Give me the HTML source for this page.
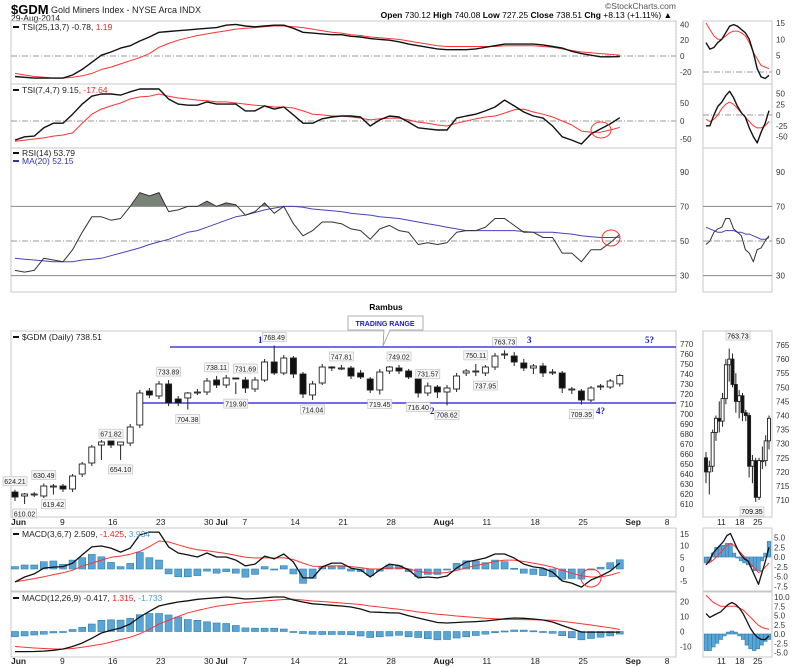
<!DOCTYPE html>
<html><head><meta charset="utf-8">
<style>
html,body{margin:0;padding:0;background:#fff;}
svg{display:block;font-family:"Liberation Sans",sans-serif;}
</style></head>
<body>
<svg id="c" width="800" height="667" viewBox="0 0 800 667" xmlns="http://www.w3.org/2000/svg">
<text x="11" y="14" font-size="13" font-weight="bold">$GDM</text>
<text x="51" y="13" font-size="9" fill="#222">Gold Miners Index - NYSE Arca  INDX</text>
<text x="11" y="21" font-size="8.5" fill="#222">29-Aug-2014</text>
<text x="676" y="9" font-size="8.5" fill="#555" text-anchor="end">©StockCharts.com</text>
<text x="672" y="18" font-size="8.5" text-anchor="end"><tspan font-weight="bold">Open</tspan> 730.12  <tspan font-weight="bold">High</tspan> 740.08  <tspan font-weight="bold">Low</tspan> 727.25  <tspan font-weight="bold">Close</tspan> 738.51  <tspan font-weight="bold">Chg</tspan> +8.13 (+1.11%) ▲</text>
<text x="386" y="310" font-size="8.5" font-weight="bold" text-anchor="middle">Rambus</text>
</svg>
<script>
// ---- data: main daily series (Jun 2 - Aug 29, 2014) ----
const dates = ["Jun 2","Jun 3","Jun 4","Jun 5","Jun 6","Jun 9","Jun 10","Jun 11","Jun 12","Jun 13","Jun 16","Jun 17","Jun 18","Jun 19","Jun 20","Jun 23","Jun 24","Jun 25","Jun 26","Jun 27","Jun 30","Jul 1","Jul 2","Jul 3","Jul 7","Jul 8","Jul 9","Jul 10","Jul 11","Jul 14","Jul 15","Jul 16","Jul 17","Jul 18","Jul 21","Jul 22","Jul 23","Jul 24","Jul 25","Jul 28","Jul 29","Jul 30","Jul 31","Aug 1","Aug 4","Aug 5","Aug 6","Aug 7","Aug 8","Aug 11","Aug 12","Aug 13","Aug 14","Aug 15","Aug 18","Aug 19","Aug 20","Aug 21","Aug 22","Aug 25","Aug 26","Aug 27","Aug 28","Aug 29"];
const opens  = [622,618,620,618,628,628,625,640,651,669,673,669,671,689,723,718,730,715,716,722,722,734,729,736,734,725,734,752,741,756,740,719,731,747,746,746,741,735,724,743,746,743,735,721,727,722,725,741,743,741,747,760,758,751,746,748,742,741,725,723,714,727,727,730.12];
const highs  = [624.21,621,622,630.49,630,630,640,652,669,674,671.82,672,690,724,726,733,733.89,718,722,725,736,738.11,739,731.69,737,737,755,768.49,759,758,742,733,750,747.81,749,748,744,737,745,748,749.02,745,737,731.57,729,729,741,745,750.11,749,761,763.73,762,755,750,751,745,743,727,725,728,730,735,740.08];
const lows   = [613,610.02,617,616,619.42,622,622,637,648,654,666,654.10,668,686,716,715,708,708,704.38,719,719,726,726,719.90,721,722,732,739,739,736,716,714.04,729,743,744,735,735,721,719.45,740,740,735,716.40,718,716,708.62,722,738,738,737.95,744,755,748,743,740,737,739,721,720,709.35,712,724,725,727.25];
const closes = [617,620,620,628,628,625,638,650,667,672,669,672,687,721,719,730,711,711,721,722,733,729,736,735,726,734,752,741,756,740,720,730,747,746,746,738,737,724,742,747,743,737,721,728,722,726,738,743,743,747,758,760,752,746,748,741,742,726,725,714,726,728,733,738.51];
const tsi1Line   = [-26,-27,-28,-28,-28,-28,-24,-17,-8,1,5,10,13,19,24,30,31,32,33,34,35,36,39,40,38,37,38,39,39,35,30,29,28,27,27,25,24,22,21,20,18,15,13,11,9,8,8,8,9,11,13,15,15,15,15,14,12,10,6,3,1,-1,-1,-0.78];
const tsi1Signal = [-22,-24,-26,-27,-28,-28,-27,-25,-22,-17,-14,-10,-6,-2,3,11,16,20,23,26,28,30,32,34,35,36,37,38,38,37,36,34,32,30,29,27,26,24,23,22,21,19,17,15,13,12,12,12,12,12,12,13,13,13,13,12,11,9,7,5,4,3,2,1.19];
const tsi2Line   = [-53,-44,-42,-19,-6,-6,19,47,69,75,75,72,81,89,89,89,61,47,44,44,53,47,47,47,28,28,42,33,39,17,-6,-6,6,11,14,14,11,-14,3,14,11,-3,-19,-22,-25,-25,8,14,19,28,39,58,42,25,14,8,-14,-44,-53,-64,-36,-22,-8,9.15];
const tsi2Signal = [-56,-53,-50,-47,-42,-39,-33,-6,19,33,42,50,61,67,69,75,69,64,61,58,56,53,53,50,47,44,42,39,39,36,28,19,17,14,14,11,8,3,6,8,8,3,-3,-6,-11,-14,-6,0,6,11,14,22,31,33,25,19,11,0,-11,-28,-31,-31,-25,-17.64];
const rsiLine = [33,32,33,40,39,38,45,55,64,64,62,63,70,78,76,78,67,68,70,70,73,70,72,71,65,67,72,66,70,60,53,56,61,61,60,57,56,51,57,59,56,55,48,49,48,49,55,56,56,58,63,63,59,55,55,52,52,43,43,38,45,45,49,53.79];
const rsiMA   = [40,39.5,39,38.5,38,38,38,39,39.5,40,41.5,43,44.5,46,48,49.5,51,53,55,56,58,60,62,64,65,66.5,68,69,70,70,69.5,68.5,68,67.5,67,66,65.5,65,64,63.5,63,62,61,60,59,58,57,56,56,56,56,56,56,55.5,55,55,55,54.5,54,53,52.5,52,52,52.15];
const macd1Line = [-5.5,-3.4,-2.1,0.4,0.8,1,2.5,6,9.4,9.8,8.9,7.2,8.9,14.5,15.7,15.7,9.4,6.8,6,5.1,6.8,5.1,5.1,3.8,1.3,2.1,5.5,4.3,6.4,3,-3.8,-3.8,0.9,2.5,2.5,0.4,-0.4,-3.4,-0.4,2.1,1.5,-0.4,-3.8,-3.4,-3.8,-3,0.4,3,3.8,4.7,6.4,6.4,4.7,2.1,0.9,0.4,-1.3,-5.1,-6,-7.7,-4.7,-3,-0.9,2.509];
const macd1Signal = [-5.5,-4.8,-4.1,-3.3,-2.4,-1.6,-0.5,1.2,2.5,3.8,5,5.5,6.3,7.5,9.5,11.9,11.5,10.3,9.1,8.2,7.8,7.2,6.6,5.8,5,4.7,4.8,4.7,4.8,4,2.5,1.2,1.1,1.3,1.4,1,0.6,0,0,0.4,0.4,0.1,-1,-1.6,-1.8,-1.5,-0.6,0.5,1.5,2.3,3.2,3.8,3.8,3.2,2.5,1.7,0.8,-0.6,-1.8,-2.9,-3.4,-3.4,-2.6,-1.425];
const macd1Hist = [1,1.7,1.7,3.1,3.4,2,3.8,4.8,6.2,5.2,2.8,1,2.4,7,4.8,3.8,-2.1,-3.3,-3.3,-2.8,-0.9,-1.8,-1.1,-1.8,-3.5,-2.3,1,-0.2,1.4,-2.1,-6.1,-4,1,1,1,-0.9,-1.1,-2.8,-0.9,1.7,1.4,-1.1,-3.3,-2.3,-2.3,-0.4,2.4,3.5,3.4,2.7,3.8,3.1,0.3,-1.8,-2.3,-2.8,-3.3,-4.4,-4,-4.3,-0.4,0.7,2.7,3.934];
const macd2Line = [-13.4,-13.4,-13.3,-13.1,-12.5,-11.7,-10,-7.7,-4.5,-1,0.8,2.3,5,9.7,13.5,17,18.5,19.7,20.5,21.5,22,22.5,23,22.5,21.7,22,22.5,23,23,21,19.7,18.5,18,17.5,17,16.3,15,13,12.8,12.5,12.3,10.5,9,7.5,6,5.7,6,6.3,6.6,7,7.7,8.5,9,8.8,8.3,7.7,6.3,4,1.8,-0.3,-0.4,-0.4,-0.4,-0.417];
const macd2Signal = [-10,-10.5,-11,-11.3,-11.6,-11.7,-11.3,-10.5,-9.5,-8.5,-7,-5.3,-3.8,-1.5,1.5,5,7.5,10,12.5,14,15.5,16.8,17.7,18.5,19.3,19.8,20.3,20.8,21.3,21.5,21,20.3,20,19.5,19,18.5,18,17,16.3,15.5,14.8,14,13,12.3,11.5,11,10.3,9.8,9.3,8.8,8.5,8.2,8,7.9,7.8,7.7,7.5,6.8,6,5.2,4.3,3.4,2.5,1.315];
// price annotations: [index, value, above?]
const annIdx = [0,1,3,4,10,11,16,18,21,24,23,27,31,34,38,40,42,43,45,48,49,51,59];
const annVal = ["624.21","610.02","630.49","619.42","671.82","654.10","733.89","704.38","738.11","731.69","719.90","768.49","714.04","747.81","719.45","749.02","716.40","731.57","708.62","750.11","737.95","763.73","709.35"];
const annUp  = [1,0,1,0,1,0,1,0,1,1,0,1,0,1,0,1,0,1,0,1,0,1,0];
const rangeTop = 767, rangeBottom = 711;
// tick labels
const tsi1Ticks=[40,20,0,-20], tsi2Ticks=[50,0,-50], rsiTicks=[90,70,50,30];
const priceTicks=[770,760,750,740,730,720,710,700,690,680,670,660,650,640,630,620,610];
const macd1Ticks=[15,10,5,0,-5], macd2Ticks=[20,10,0,-10];
const dateTickIdx=[0,5,10,15,20,21,24,29,34,39,44,44,49,54,59,64,68];
const dateTickLbl=["Jun","9","16","23","30","Jul","7","14","21","28","Aug","4","11","18","25","Sep","8"];
// ---- data: right-side zoomed panels ----
const sTsi1Line=[9,7,7.5,9,10,12,14,14.5,14,13,12,10,6,1,-1.5,-2,-1];
const sTsi1Sig=[15,13,11,10,10,11,12,12.5,12.5,12,11,9,6,4,2,1.5,1];
const sTsi2Line=[-25,-25,0,20,30,45,55,40,20,5,-5,-30,-50,-65,-40,-20,10];
const sTsi2Sig=[-10,-15,-10,0,15,25,30,25,15,5,-5,-15,-25,-30,-30,-25,-15];
const sRsiLine=[48,50,55,57,58,63,63,57,55,53,45,43,38,45,46,50,53];
const sRsiMA=[58,57,56,55,55,56,56,56,55,55,54,54,53,52,51,51,52];
const sOpen=[725,720,722,734,739,738,746,758,760,751,745,747,741,740,722,724,711,724,724,731];
const sHigh=[727,724,735,740,745,748,760,763.73,762,755,749,748,742,741,726,725,725,729,733,740];
const sLow=[716,712,720,731,734,736,744,752,750,741,739,738,738,718,716,709.35,710,721,722,728];
const sClose=[720,722,734,739,738,746,758,760,751,745,747,741,740,722,724,711,724,724,731,739];
const sMacd1Line=[-2,-1,1,2,3,4,5.5,6,4,2,0.5,-0.5,-1,-3,-5,-7,-4,-1,2.5];
const sMacd1Sig=[-1,-1.5,-0.8,0,1,2,3,3.5,3,2,1,0,-1,-2,-3,-4,-3.5,-2.5,-1.5];
const sMacd1Hist=[-1.5,-1,1,2.5,2.8,3,3.5,3.5,1,0,-1,-1.5,-2,-2.5,-3.5,-3.5,-1,1,4];
const sMacd2Line=[5.5,4.5,5,5.5,6,7,8,8.5,8,7,5.5,3.5,1.5,0,-1,-1.5,-1.5,-0.5];
const sMacd2Sig=[10.5,9.5,8.5,8,7.5,7.5,7.5,7.5,7.5,7,6.5,5.5,4.5,3.5,2.5,1.8,1.5,1.3];
const sMacd2Hist=[-4.5,-4.5,-3.5,-2.5,-1.5,-0.5,0.5,0.8,0.5,-0.5,-1.5,-3,-4,-4.5,-4,-3,-2,-1.5];

const svg=document.getElementById('c');
const NS='http://www.w3.org/2000/svg';
function mk(tag,attrs,parent){const e=document.createElementNS(NS,tag);for(const k in attrs)e.setAttribute(k,attrs[k]);(parent||svg).appendChild(e);return e;}
const X=i=>15+i*9.6;
const tsi1Y=v=>56-v*0.79, tsi2Y=v=>121-v*0.36, rsiY=v=>241-(v-50)*1.73;
const priceY=v=>344+(770-v), macd1Y=v=>569-v*2.35, macd2Y=v=>631.5-v*1.5;
const sTsi1Y=v=>72-v*3.27, sTsi2Y=v=>115-v*0.43, sPriceY=v=>345+(765-v)*2.82;
const sMacd1Y=v=>557-v*3.9, sMacd2Y=v=>634-v*3.7;
const SX=(j,n)=>706+j*(63/(n-1));

// panel frames
const panels=[[21,84],[84,148],[148,292],[331,517],[528,591],[592,657]];
panels.forEach(p=>{
  let r=mk('rect',{x:11,y:p[0],width:665,height:p[1]-p[0],fill:'none',stroke:'#c8c8c8'});
  
  
  let s=mk('rect',{x:703,y:p[0],width:69,height:p[1]-p[0],fill:'none',stroke:'#c8c8c8'});
  
  
  let d=mk('line',{x1:676,y1:p[0],x2:676,y2:p[1],stroke:'#bbb','stroke-dasharray':'1,2'});
  
  
});

function hline(y,x1,x2,style,name){
  const l=mk('line',{x1:x1,y1:y,x2:x2,y2:y,stroke:style==='solid'?'#888':'#999','stroke-dasharray':style==='solid'?'':'6,2,1,2'});
  
  
}
function ticks(arr,fn,x,name,fmt){
  arr.forEach(v=>{
    const t=mk('text',{x:x,y:fn(v)+3,'font-size':'8',fill:'#333'});
    t.textContent=fmt?fmt(v):String(v);
    
    
  });
}
function series(vals,fn,xf,color,w,name){
  const pts=vals.map((v,i)=>xf(i,vals.length).toFixed(1)+','+fn(v).toFixed(1)).join(' ');
  const p=mk('polyline',{points:pts,fill:'none',stroke:color,'stroke-width':w,'stroke-linejoin':'round'});
  
  
  return pts;
}
const MX=(i)=>X(i);

// zero / reference lines
hline(tsi1Y(0),11,676,'dash','tsi-long-zero-line');
hline(tsi2Y(0),11,676,'dash','tsi-short-zero-line');
hline(rsiY(70),11,676,'solid','rsi-70-line');
hline(rsiY(30),11,676,'solid','rsi-30-line');
hline(rsiY(50),11,676,'dash','rsi-50-line');
hline(sTsi1Y(0),703,772,'dash','side-tsi-long-zero-line');
hline(sTsi2Y(0),703,772,'dash','side-tsi-short-zero-line');
hline(rsiY(70),703,772,'solid','side-rsi-70-line');
hline(rsiY(30),703,772,'solid','side-rsi-30-line');
hline(rsiY(50),703,772,'dash','side-rsi-50-line');

// axis ticks main
ticks(tsi1Ticks,tsi1Y,680,'tsi-long-tick');
ticks(tsi2Ticks,tsi2Y,680,'tsi-short-tick');
ticks(rsiTicks,rsiY,680,'rsi-tick');
ticks(priceTicks,priceY,680,'price-tick');
ticks(macd1Ticks,macd1Y,680,'macd-fast-tick');
ticks(macd2Ticks,macd2Y,680,'macd-slow-tick');
ticks([15,10,5,0],sTsi1Y,776,'side-tsi-long-tick');
ticks([50,25,0,-25,-50],sTsi2Y,776,'side-tsi-short-tick');
ticks(rsiTicks,rsiY,776,'side-rsi-tick');
ticks([765,760,755,750,745,740,735,730,725,720,715,710],sPriceY,776,'side-price-tick');
ticks([5,2.5,0,-2.5,-5,-7.5],sMacd1Y,774,'side-macd-fast-tick',v=>v.toFixed(1));
ticks([10,7.5,5,2.5,0,-2.5,-5],sMacd2Y,774,'side-macd-slow-tick',v=>v.toFixed(1));

// date axes
[525,664].forEach(yy=>{
  dateTickIdx.forEach((ix,k)=>{
    const lbl=dateTickLbl[k];
    const bold=isNaN(+lbl);
    let x=X(ix)-(bold?4:3);
    if(lbl==='4') x=X(ix)+12;
    if(lbl==='Jul') x=X(ix)-1;
    const t=mk('text',{x:x,y:yy,'font-size':'8.5',fill:'#222','font-weight':bold?'bold':'normal'});
    t.textContent=lbl;
    
    
  });
  [['11',717],['18',735],['25',753]].forEach(a=>{
    const t=mk('text',{x:a[1],y:yy,'font-size':'8.5',fill:'#222'});
    t.textContent=a[0];
    
    
  });
});

// RSI overbought shading
const clip=mk('clipPath',{id:'above70'});
mk('rect',{x:11,y:148,width:665,height:rsiY(70)-148},clip);
const rsiPts=rsiLine.map((v,i)=>X(i).toFixed(1)+','+rsiY(v).toFixed(1)).join(' ');
const shade=mk('polygon',{points:X(0)+','+rsiY(70)+' '+rsiPts+' '+X(63)+','+rsiY(70),fill:'#7a8378','clip-path':'url(#above70)'});



// main indicator lines
series(tsi1Signal,tsi1Y,MX,'#f33',1,'tsi-long-signal-line');
series(tsi1Line,tsi1Y,MX,'#111',1.4,'tsi-long-line');
series(tsi2Signal,tsi2Y,MX,'#f33',1,'tsi-short-signal-line');
series(tsi2Line,tsi2Y,MX,'#111',1.4,'tsi-short-line');
series(rsiMA,rsiY,MX,'#4444bb',1,'rsi-ma-line');
series(rsiLine,rsiY,MX,'#333',1,'rsi-line');

// MACD histograms
function hist(vals,fn,xf,w,name){
  vals.forEach((v,i)=>{
    const y0=fn(0),y1=fn(v);
    const r=mk('rect',{x:(xf(i,vals.length)-w/2).toFixed(1),y:Math.min(y0,y1).toFixed(1),width:w,height:Math.max(1,Math.abs(y1-y0)).toFixed(1),fill:'#5aa5d5',stroke:'#2f7fb0','stroke-width':0.6});
    
    
  });
}
hist(macd1Hist,macd1Y,MX,7,'macd-fast-histogram-bar');
hist(macd2Line.map((v,i)=>v-macd2Signal[i]),macd2Y,MX,7,'macd-slow-histogram-bar');
series(macd1Signal,macd1Y,MX,'#f33',1,'macd-fast-signal-line');
series(macd1Line,macd1Y,MX,'#111',1.3,'macd-fast-line');
series(macd2Signal,macd2Y,MX,'#f33',1,'macd-slow-signal-line');
series(macd2Line,macd2Y,MX,'#111',1.3,'macd-slow-line');

// trading range
const rl1=mk('line',{x1:170,y1:priceY(rangeTop),x2:676,y2:priceY(rangeTop),stroke:'#1a1ad0','stroke-width':1.3});


const rl2=mk('line',{x1:140,y1:priceY(rangeBottom),x2:676,y2:priceY(rangeBottom),stroke:'#1a1ad0','stroke-width':1.3});



// candles
function candle(x,o,h,l,c,yf,w,name){
  const g=mk('g',{});
  
  
  mk('line',{x1:x,y1:yf(h),x2:x,y2:yf(l),stroke:'#222','stroke-width':1},g);
  const top=yf(Math.max(o,c)),bot=yf(Math.min(o,c));
  mk('rect',{x:x-w/2,y:top,width:w,height:Math.max(1,bot-top),fill:c<o?'#111':'#fff',stroke:'#222','stroke-width':0.9},g);
}
for(let i=0;i<closes.length;i++) candle(X(i),opens[i],highs[i],lows[i],closes[i],priceY,6,'price-candle');

// price annotations
annIdx.forEach((ix,k)=>{
  const x=X(ix), up=annUp[k];
  const yv=up?priceY(highs[ix]):priceY(lows[ix]);
  const by=up?yv-13:yv+5;
  const g=mk('g',{});
  
  
  mk('rect',{x:x-12,y:by,width:24,height:9,fill:'#f6f6f6',stroke:'#bbb','stroke-width':0.6},g);
  const t=mk('text',{x:x,y:by+7.3,'font-size':'7','text-anchor':'middle',fill:'#222'},g);
  t.textContent=annVal[k];
});

// trading range label box
const tb=mk('path',{d:'M348,316 H423 V330 H390 L383,346 L384,330 H348 Z',fill:'#fff',stroke:'#999','stroke-width':0.8});


const tt=mk('text',{x:385,y:326,'font-size':'7','font-weight':'bold','text-anchor':'middle',fill:'#1a1ad0'});
tt.textContent='TRADING RANGE';


[['1',258,343],['3',527,343],['5?',645,343],['2',430,414],['4?',596,414]].forEach(a=>{
  const t=mk('text',{x:a[1],y:a[2],'font-size':'9','font-weight':'bold',fill:'#1a1ad0','font-family':'Liberation Serif, serif'});
  t.textContent=a[0];
  
  
});

// red circles
[[601,130,10,8,'tsi-crossover-circle'],[611,238,9,8,'rsi-crossover-circle'],[591,578,10,9,'macd-crossover-circle']].forEach(c=>{
  const e=mk('ellipse',{cx:c[0],cy:c[1],rx:c[2],ry:c[3],fill:'none',stroke:'#f33','stroke-width':1});
  
  
});

// side panels
series(sTsi1Sig,sTsi1Y,SX,'#f33',1,'side-tsi-long-signal');
series(sTsi1Line,sTsi1Y,SX,'#111',1.4,'side-tsi-long-line');
series(sTsi2Sig,sTsi2Y,SX,'#f33',1,'side-tsi-short-signal');
series(sTsi2Line,sTsi2Y,SX,'#111',1.4,'side-tsi-short-line');
series(sRsiMA,rsiY,SX,'#4444bb',1,'side-rsi-ma');
series(sRsiLine,rsiY,SX,'#333',1,'side-rsi-line');
for(let j=0;j<sClose.length;j++) candle(SX(j,sClose.length),sOpen[j],sHigh[j],sLow[j],sClose[j],sPriceY,3,'side-price-candle');
hist(sMacd1Hist,sMacd1Y,SX,3.6,'side-macd-fast-bar');
series(sMacd1Sig,sMacd1Y,SX,'#f33',1,'side-macd-fast-signal');
series(sMacd1Line,sMacd1Y,SX,'#111',1.3,'side-macd-fast-line');
hist(sMacd2Hist,sMacd2Y,SX,3.6,'side-macd-slow-bar');
series(sMacd2Sig,sMacd2Y,SX,'#f33',1,'side-macd-slow-signal');
series(sMacd2Line,sMacd2Y,SX,'#111',1.3,'side-macd-slow-line');
[[738,'763.73',345-14],[752,'709.35',sPriceY(709.35)+5]].forEach(a=>{
  const g=mk('g',{});
  
  
  mk('rect',{x:a[0]-12,y:a[2],width:24,height:9,fill:'#f6f6f6',stroke:'#bbb','stroke-width':0.6},g);
  const t=mk('text',{x:a[0],y:a[2]+7.3,'font-size':'7','text-anchor':'middle'},g);
  t.textContent=a[1];
});

// legends
function legend(y,parts,name){
  const t=mk('text',{x:22,y:y,'font-size':'8.5',fill:'#222'});
  
  
  parts.forEach(p=>{const s=mk('tspan',{fill:p[1]},t);s.textContent=p[0];});
  const m=mk('line',{x1:13,y1:y-3,x2:19,y2:y-3,stroke:parts[0][2]||'#111','stroke-width':2});
  
  
}
legend(30,[['TSI(25,13,7) -0.78, ','#222'],['1.19','#e22']],'tsi-long-legend');
legend(93,[['TSI(7,4,7) 9.15, ','#222'],['-17.64','#e22']],'tsi-short-legend');
legend(156,[['RSI(14) 53.79','#222']],'rsi-legend');
legend(164,[['MA(20) 52.15','#33a','#33a']],'rsi-ma-legend');
legend(340,[['$GDM (Daily) 738.51','#222']],'price-legend');
legend(537,[['MACD(3,6,7) 2.509, ','#222'],['-1.425','#e22'],[', ','#222'],['3.934','#4a9ad0']],'macd-fast-legend');
legend(601,[['MACD(12,26,9) -0.417, ','#222'],['1.315','#e22'],[', ','#222'],['-1.733','#4a9ad0']],'macd-slow-legend');
</script>
</body></html>
